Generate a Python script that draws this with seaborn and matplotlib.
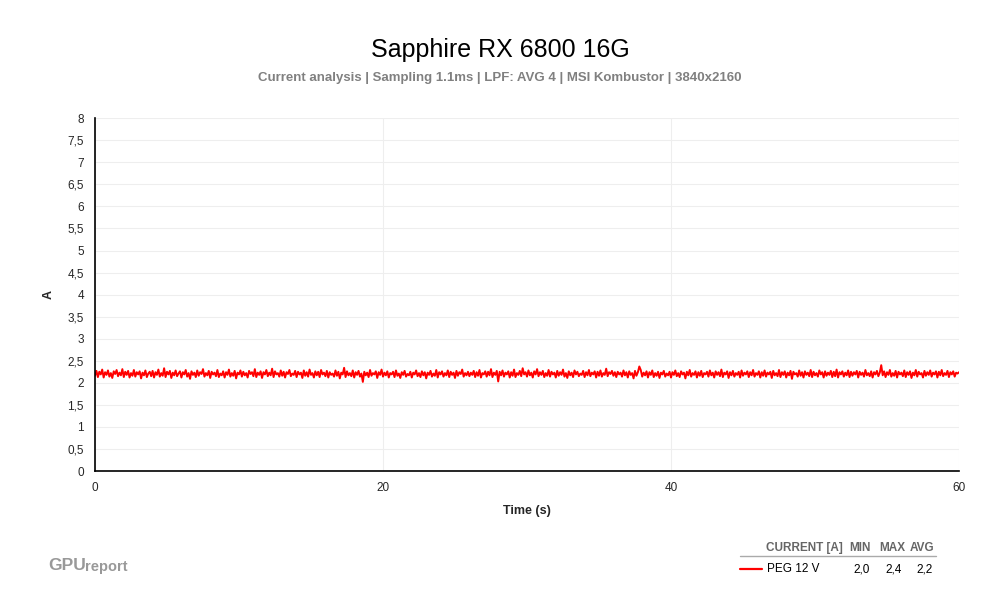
import numpy as np
import pandas as pd
import matplotlib
matplotlib.use("Agg")
import matplotlib.pyplot as plt
import seaborn as sns

title = "Sapphire RX 6800 16G"
subtitle = "Current analysis | Sampling 1.1ms | LPF: AVG 4 | MSI Kombustor | 3840x2160"
series_name = "PEG 12 V"
stats_header = ["CURRENT [A]", "MIN", "MAX", "AVG"]
stats_values = ["2,0", "2,4", "2,2"]
y_ticks = [0, 0.5, 1, 1.5, 2, 2.5, 3, 3.5, 4, 4.5, 5, 5.5, 6, 6.5, 7, 7.5, 8]
x_ticks = [0, 20, 40, 60]

# PEG 12 V current (A), 0.1 s apart
current = [
    2.16, 2.27, 2.13, 2.25, 2.19, 2.30, 2.12, 2.24, 2.18, 2.28, 2.14, 2.22, 2.11, 2.26, 2.20, 2.29, 2.15, 2.23, 2.17, 2.31,
    2.13, 2.25, 2.18, 2.27, 2.12, 2.22, 2.16, 2.29, 2.14, 2.24, 2.19, 2.26, 2.10, 2.23, 2.17, 2.28, 2.13, 2.21, 2.25, 2.15,
    2.27, 2.12, 2.24, 2.18, 2.30, 2.14, 2.22, 2.16, 2.33, 2.13, 2.25, 2.19, 2.27, 2.11, 2.23, 2.17, 2.28, 2.15, 2.21, 2.26,
    2.12, 2.24, 2.19, 2.29, 2.14, 2.22, 2.09, 2.26, 2.18, 2.23, 2.13, 2.28, 2.16, 2.24, 2.20, 2.31, 2.14, 2.22, 2.17, 2.27,
    2.11, 2.25, 2.19, 2.23, 2.15, 2.29, 2.13, 2.21, 2.17, 2.26, 2.12, 2.24, 2.18, 2.30, 2.14, 2.22, 2.16, 2.27, 2.10, 2.23,
    2.19, 2.28, 2.14, 2.25, 2.17, 2.22, 2.12, 2.27, 2.20, 2.24, 2.15, 2.31, 2.13, 2.23, 2.18, 2.26, 2.11, 2.24, 2.19, 2.29,
    2.15, 2.23, 2.17, 2.32, 2.13, 2.26, 2.19, 2.22, 2.14, 2.28, 2.16, 2.25, 2.12, 2.24, 2.20, 2.29, 2.15, 2.21, 2.18, 2.27,
    2.13, 2.25, 2.19, 2.23, 2.11, 2.28, 2.16, 2.24, 2.14, 2.30, 2.18, 2.22, 2.12, 2.26, 2.17, 2.25, 2.13, 2.29, 2.19, 2.23,
    2.15, 2.27, 2.12, 2.24, 2.18, 2.21, 2.14, 2.28, 2.16, 2.25, 2.10, 2.23, 2.19, 2.34, 2.13, 2.26, 2.17, 2.22, 2.15, 2.28,
    2.12, 2.24, 2.18, 2.27, 2.14, 2.21, 2.02, 2.25, 2.17, 2.23, 2.13, 2.29, 2.16, 2.22, 2.19, 2.26, 2.11, 2.24, 2.18, 2.30,
    2.14, 2.23, 2.17, 2.26, 2.12, 2.22, 2.19, 2.25, 2.13, 2.28, 2.16, 2.21, 2.11, 2.24, 2.18, 2.27, 2.14, 2.20, 2.17, 2.25,
    2.12, 2.23, 2.19, 2.28, 2.15, 2.22, 2.13, 2.26, 2.17, 2.24, 2.10, 2.23, 2.18, 2.27, 2.14, 2.21, 2.16, 2.29, 2.12, 2.24,
    2.19, 2.26, 2.14, 2.22, 2.17, 2.28, 2.13, 2.25, 2.18, 2.23, 2.11, 2.27, 2.16, 2.24, 2.20, 2.30, 2.14, 2.22, 2.17, 2.25,
    2.15, 2.23, 2.18, 2.27, 2.13, 2.24, 2.16, 2.29, 2.12, 2.22, 2.19, 2.26, 2.14, 2.25, 2.17, 2.31, 2.13, 2.23, 2.18, 2.27,
    2.03, 2.25, 2.17, 2.28, 2.14, 2.23, 2.19, 2.26, 2.12, 2.24, 2.16, 2.30, 2.13, 2.22, 2.18, 2.27, 2.15, 2.33, 2.19, 2.24,
    2.14, 2.28, 2.17, 2.23, 2.12, 2.26, 2.19, 2.31, 2.15, 2.24, 2.18, 2.27, 2.13, 2.22, 2.16, 2.29, 2.14, 2.25, 2.19, 2.23,
    2.12, 2.27, 2.16, 2.24, 2.18, 2.30, 2.14, 2.22, 2.11, 2.26, 2.17, 2.23, 2.13, 2.28, 2.19, 2.25, 2.15, 2.21, 2.18, 2.27,
    2.13, 2.24, 2.17, 2.29, 2.15, 2.23, 2.19, 2.26, 2.12, 2.25, 2.16, 2.28, 2.14, 2.22, 2.18, 2.32, 2.15, 2.24, 2.20, 2.27,
    2.16, 2.24, 2.13, 2.25, 2.19, 2.23, 2.14, 2.28, 2.17, 2.24, 2.12, 2.26, 2.18, 2.22, 2.10, 2.27, 2.16, 2.24, 2.37, 2.29,
    2.14, 2.23, 2.17, 2.26, 2.12, 2.24, 2.18, 2.28, 2.13, 2.22, 2.16, 2.25, 2.11, 2.23, 2.19, 2.27, 2.14, 2.21, 2.17, 2.25,
    2.12, 2.24, 2.18, 2.28, 2.15, 2.22, 2.13, 2.26, 2.19, 2.23, 2.10, 2.25, 2.17, 2.29, 2.14, 2.22, 2.18, 2.26, 2.12, 2.24,
    2.16, 2.27, 2.13, 2.22, 2.19, 2.25, 2.14, 2.28, 2.17, 2.23, 2.12, 2.26, 2.18, 2.24, 2.15, 2.30, 2.13, 2.23, 2.19, 2.26,
    2.11, 2.24, 2.17, 2.27, 2.14, 2.22, 2.18, 2.25, 2.12, 2.28, 2.16, 2.23, 2.19, 2.26, 2.13, 2.24, 2.17, 2.29, 2.14, 2.22,
    2.18, 2.26, 2.12, 2.24, 2.16, 2.28, 2.14, 2.23, 2.19, 2.25, 2.11, 2.27, 2.17, 2.22, 2.15, 2.29, 2.13, 2.24, 2.18, 2.26,
    2.12, 2.23, 2.17, 2.27, 2.09, 2.25, 2.19, 2.22, 2.14, 2.28, 2.16, 2.24, 2.12, 2.26, 2.18, 2.23, 2.15, 2.29, 2.13, 2.25,
    2.17, 2.22, 2.14, 2.28, 2.19, 2.24, 2.12, 2.26, 2.16, 2.23, 2.18, 2.27, 2.13, 2.25, 2.15, 2.30, 2.12, 2.24, 2.19, 2.26,
    2.14, 2.23, 2.17, 2.28, 2.13, 2.25, 2.16, 2.24, 2.19, 2.27, 2.12, 2.25, 2.18, 2.23, 2.14, 2.29, 2.17, 2.22, 2.15, 2.26,
    2.12, 2.24, 2.19, 2.27, 2.15, 2.23, 2.40, 2.17, 2.26, 2.13, 2.24, 2.18, 2.29, 2.14, 2.22, 2.16, 2.27, 2.12, 2.25, 2.19,
    2.23, 2.15, 2.28, 2.13, 2.24, 2.18, 2.26, 2.11, 2.23, 2.17, 2.29, 2.14, 2.25, 2.19, 2.22, 2.12, 2.27, 2.16, 2.24, 2.18,
    2.28, 2.14, 2.23, 2.19, 2.26, 2.12, 2.25, 2.17, 2.29, 2.15, 2.22, 2.18, 2.27, 2.13, 2.24, 2.19, 2.26, 2.14, 2.23, 2.21,
    2.24,
]
time_s = np.linspace(0, 60, len(current))

df = pd.DataFrame({"Time (s)": time_s, "A": current})

sns.set_style("white")
plt.rcParams["font.family"] = ["Liberation Sans", "DejaVu Sans"]

fig = plt.figure(figsize=(10, 6), dpi=100)
ax = fig.add_axes([0.095, 0.215, 0.864, 0.588])

sns.lineplot(data=df, x="Time (s)", y="A", ax=ax, color="#ff0000", linewidth=1.4)

ax.set_xlim(0, 60)
ax.set_ylim(0, 8)
ax.set_xticks(x_ticks)
ax.set_yticks(y_ticks)
ax.set_yticklabels([f"{v:g}".replace(".", ",") for v in y_ticks], fontsize=8.5)
ax.set_xticklabels([str(v) for v in x_ticks], fontsize=8.5)
ax.grid(True, color="#eeeeee", linewidth=0.8)
for s in ["top", "right"]:
    ax.spines[s].set_visible(False)
for s in ["left", "bottom"]:
    ax.spines[s].set_color("black")
    ax.spines[s].set_linewidth(1.2)
ax.tick_params(axis="both", direction="out", length=5, width=1, color="black", pad=3)
ax.set_xlabel("Time (s)", fontsize=9, fontweight="bold", labelpad=8)
ax.set_ylabel("A", fontsize=9, fontweight="bold", labelpad=9)

fig.text(0.5, 0.917, title, ha="center", va="center", fontsize=18, color="black")
fig.text(0.5, 0.870, subtitle, ha="center", va="center", fontsize=9.5, color="#808080", fontweight="bold")

# GPUreport logo
fig.text(0.048, 0.057, "GPU", ha="left", va="center", fontsize=12.5, fontweight="bold", color="#999999")
fig.text(0.085, 0.055, "report", ha="left", va="center", fontsize=10.5, fontweight="bold", color="#999999")

# stats table
hy = 1 - 548 / 600
fig.text(0.766, hy, stats_header[0], ha="left", va="center", fontsize=8.5, fontweight="bold", color="#666666")
for txt, xr in zip(stats_header[1:], [0.871, 0.905, 0.934]):
    fig.text(xr, hy, txt, ha="right", va="center", fontsize=8.5, fontweight="bold", color="#666666")
ly = 1 - 556 / 600
fig.add_artist(plt.Line2D([0.740, 0.936], [ly, ly], color="#aaaaaa", linewidth=1, transform=fig.transFigure))
ry = 1 - 569 / 600
fig.add_artist(plt.Line2D([0.740, 0.762], [ry, ry], color="#ff0000", linewidth=1.6, transform=fig.transFigure))
fig.text(0.767, ry, series_name, ha="left", va="center", fontsize=8.5, color="black")
for txt, xr in zip(stats_values, [0.870, 0.902, 0.933]):
    fig.text(xr, ry, txt, ha="right", va="center", fontsize=8.5, color="black")

fig.savefig("out.png", dpi=100, facecolor="white")
